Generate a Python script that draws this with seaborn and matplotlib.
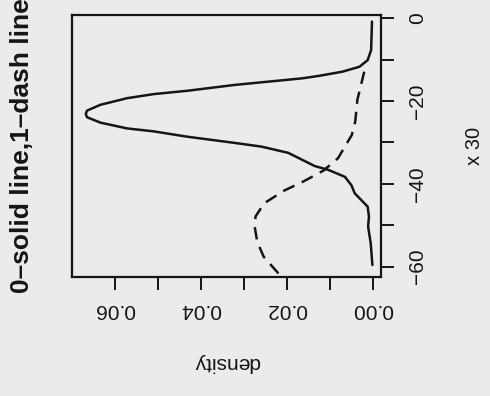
import matplotlib
matplotlib.use("Agg")
import matplotlib.pyplot as plt
import seaborn as sns
import pandas as pd

# ---- data read from the (rotated) reference ----
# group 0 (solid line): x value, density
solid_x = [-0.8, -7.7, -10.1, -11.7, -12.9, -13.9, -14.5, -16.1, -17.5, -18.3, -19.3, -20.9,
           -22.3, -23.1, -23.9, -25.2, -26.6, -27.3, -28.6, -30.0, -31.0, -32.5, -34.1,
           -35.7, -36.6, -38.3, -40.3, -42.3, -45.5, -47.9, -50.3, -54.3, -59.6]
solid_d = [0.0002, 0.0004, 0.0012, 0.0031, 0.0071, 0.0125, 0.0164, 0.0322, 0.0431, 0.0509, 0.0572, 0.0634,
           0.0665, 0.0668, 0.0665, 0.0634, 0.0572, 0.0511, 0.0432, 0.0329, 0.0259, 0.0197, 0.0166,
           0.0135, 0.0104, 0.0065, 0.0050, 0.0042, 0.0012, 0.0009, 0.0011, 0.0005, 0.0001]
# group 1 (dash line)
dash_x = [-12.9, -19.7, -25.0, -28.2, -33.8, -36.8, -39.5, -41.6, -44.7, -47.9, -50.3,
          -54.0, -57.6, -61.6, -62.6]
dash_d = [0.0020, 0.0036, 0.0041, 0.0049, 0.0081, 0.0115, 0.0163, 0.0206, 0.0253, 0.0273, 0.0275,
          0.0269, 0.0254, 0.0220, 0.0210]

density_ticks = [0.00, 0.01, 0.02, 0.03, 0.04, 0.05, 0.06]
density_labels = ["0.00", "", "0.02", "", "0.04", "", "0.06"]
x_ticks = [-60, -50, -40, -30, -20, -10, 0]
x_labels = ["\u221260", "", "\u221240", "", "\u221220", "", "0"]

title = "0\u2013solid line,1\u2013dash line"

# ---- styling ----
sns.set_style("white")
bg = "#ebebeb"
ink = "#151515"
plt.rcParams["font.family"] = ["Liberation Sans", "DejaVu Sans"]

fig = plt.figure(figsize=(4.9, 3.96), dpi=100, facecolor=bg)
ax = fig.add_axes([72 / 490, 1 - 277 / 396, (381 - 72) / 490, (277 - 15) / 396])
ax.set_facecolor(bg)

df0 = pd.DataFrame({"density": solid_d, "x": solid_x})
df1 = pd.DataFrame({"density": dash_d, "x": dash_x})
sns.lineplot(data=df0, x="density", y="x", sort=False, estimator=None,
             color=ink, linewidth=1.8, ax=ax)
sns.lineplot(data=df1, x="density", y="x", sort=False, estimator=None,
             color=ink, linewidth=1.8, dashes=False, ax=ax)
ax.lines[0].set_solid_joinstyle("round")
ax.lines[1].set_dashes((5, 3.2))

ax.set_xlim(0.0700, -0.0019)
ax.set_ylim(-62.5, 0.8)

for s in ax.spines.values():
    s.set_visible(True)
    s.set_linewidth(1.6)
    s.set_color(ink)

ax.set_xticks(density_ticks)
ax.set_xticklabels(density_labels)
ax.set_yticks(x_ticks)
ax.set_yticklabels(x_labels)
ax.yaxis.tick_right()
ax.tick_params(axis="x", bottom=True, direction="out", length=9.5, width=1.4,
               color=ink, labelcolor=ink, labelsize=15, labelrotation=180, pad=7)
ax.tick_params(axis="y", right=True, left=False, direction="out", length=9.5, width=1.4,
               color=ink, labelcolor=ink, labelsize=15, labelrotation=90, pad=10)
for lab in ax.get_yticklabels():
    lab.set_va("center")

ax.set_xlabel("density", fontsize=15, color=ink, rotation=180, va="center", ha="center")
ax.xaxis.set_label_coords(0.5, -0.328)
ax.yaxis.set_label_position("right")
ax.set_ylabel("x 30", fontsize=14.5, color=ink, rotation=90, va="center", ha="center")
ax.yaxis.set_label_coords((474 - 72) / 309, 0.5)

fig.text(22 / 490, 1 - 146 / 396, title, rotation=90, fontsize=19, fontweight="bold",
         color=ink, ha="center", va="center")

fig.savefig("out.png", dpi=100, facecolor=bg)
